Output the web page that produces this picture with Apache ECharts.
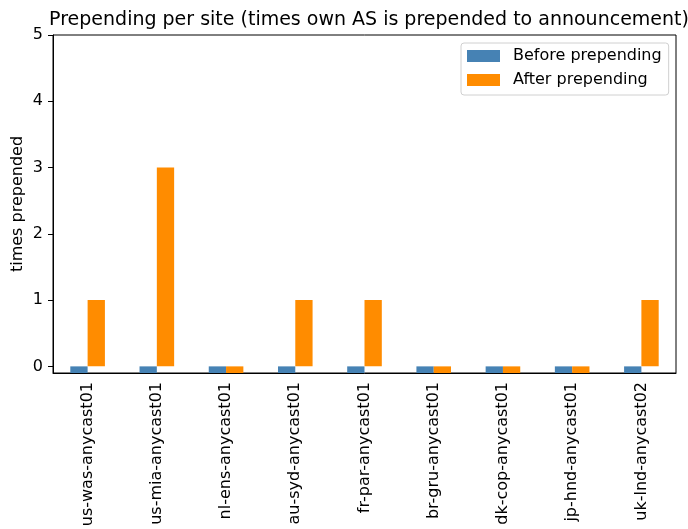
<!DOCTYPE html>
<html><head><meta charset="utf-8">
<script src="https://cdn.jsdelivr.net/npm/echarts@6/dist/echarts.min.js"></script>
<style>html,body{margin:0;padding:0;background:#fff}#c{width:688px;height:529px}</style>
</head><body><div id="c"></div>
<script>
const categories = ["us-was-anycast01","us-mia-anycast01","nl-ens-anycast01","au-syd-anycast01","fr-par-anycast01","br-gru-anycast01","dk-cop-anycast01","jp-hnd-anycast01","uk-lnd-anycast02"];
const beforeValues = [-0.1,-0.1,-0.1,-0.1,-0.1,-0.1,-0.1,-0.1,-0.1];
const afterValues = [1,3,-0.1,1,1,-0.1,-0.1,-0.1,1];
const yTicks = [0,1,2,3,4,5];
const F = "DejaVu Sans";
const chart = echarts.init(document.getElementById('c'), null, {renderer:'canvas'});
chart.setOption({
  animation:false,
  backgroundColor:'#fff',
  title:{text:"Prepending per site (times own AS is prepended to announcement)", left:364, textAlign:'center', top:6,
    textStyle:{fontFamily:F,fontSize:19,fontWeight:'normal',color:'#000'}},
  grid:{left:53,right:12,top:35,bottom:156,show:true,borderColor:'#000',borderWidth:1,containLabel:false,outerBoundsMode:'none'},
  legend:{orient:'vertical',left:461,top:43,itemWidth:33,itemHeight:12,itemGap:6,
    padding:[4,7,6,6],borderColor:'#d0d0d0',borderWidth:1,borderRadius:3,backgroundColor:'rgba(255,255,255,0.8)',
    textStyle:{fontFamily:F,fontSize:16,color:'#000',lineHeight:18,padding:[0,0,0,8]},
    data:["Before prepending","After prepending"],icon:'rect'},
  xAxis:{type:'category',data:categories,
    axisLine:{onZero:false,lineStyle:{color:'#000'}},
    axisTick:{alignWithLabel:true,length:5,lineStyle:{color:'#000'}},
    axisLabel:{rotate:90,margin:9,interval:0,fontFamily:F,fontSize:16,color:'#000'}},
  yAxis:{type:'value',min:-0.1,max:5,name:'times prepended',nameLocation:'middle',nameGap:27,nameMoveOverlap:false,
    nameTextStyle:{fontFamily:F,fontSize:16,color:'#000'},
    splitLine:{show:false},
    axisLine:{show:true,lineStyle:{color:'#000'}},
    axisTick:{show:true,length:5,customValues:yTicks,lineStyle:{color:'#000'}},
    axisLabel:{customValues:yTicks,margin:10,fontFamily:F,fontSize:16,color:'#000'}},
  series:[
    {name:"Before prepending",type:'bar',data:beforeValues,barWidth:'25%',barGap:'0%',itemStyle:{color:'#4682b4'}},
    {name:"After prepending",type:'bar',data:afterValues,barWidth:'25%',barGap:'0%',itemStyle:{color:'#ff8c00'}}
  ]
});
</script></body></html>
